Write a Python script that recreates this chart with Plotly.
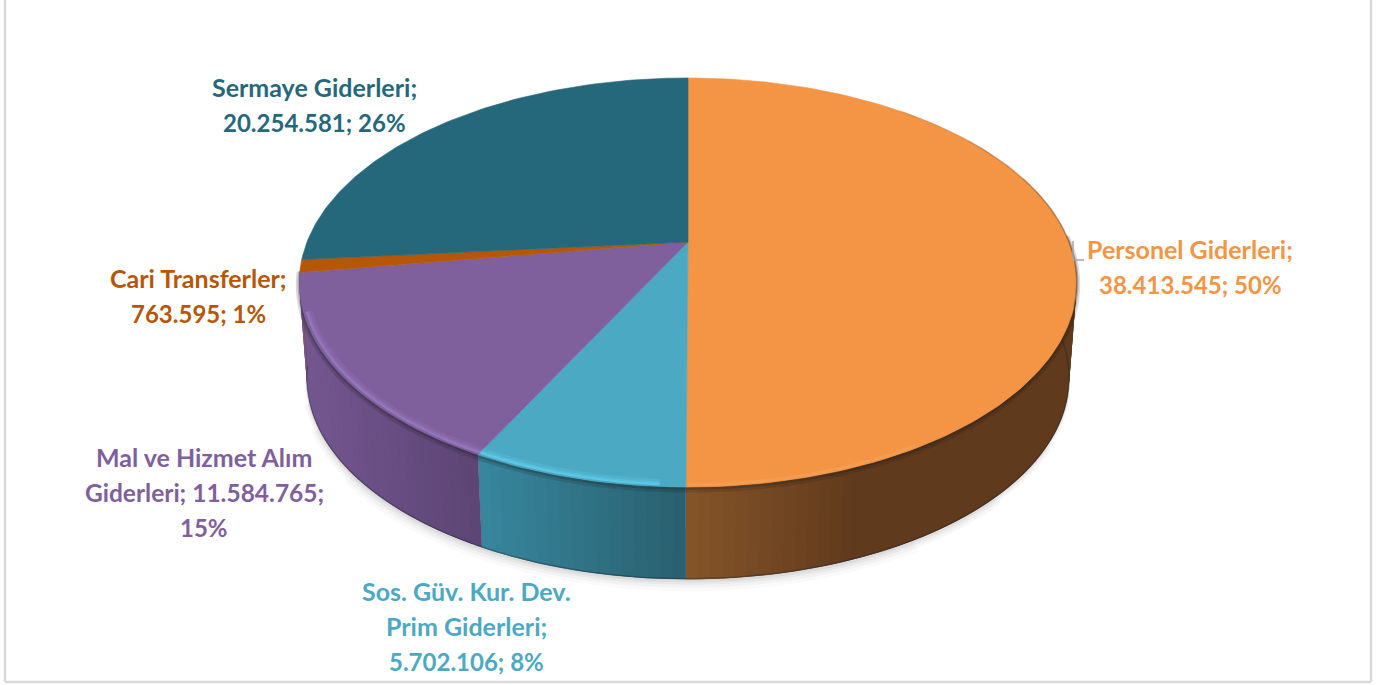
import math
import plotly.graph_objects as go

# ---- data ----
names = ["Personel Giderleri;", "Sos. Güv. Kur. Dev.<br>Prim Giderleri;", "Mal ve Hizmet Alım<br>Giderleri;", "Cari Transferler;", "Sermaye Giderleri;"]
values = [38413545, 5702106, 11584765, 763595, 20254581]
percents = [50, 8, 15, 1, 26]
value_breaks = ["<br>", "<br>", " ", "<br>", "<br>"]
pct_breaks = [" ", " ", "<br>", " ", " "]

top_colors = ["#F39545", "#4BA9C4", "#7F609D", "#B65708", "#25687B"]
rim_rgb = ["246,161,90", "98,210,240", "156,125,198", "201,106,26", "47,122,143"]
wall_left = ["#85552A", "#37879E", "#745790", "#8A4A10", "#1F5566"]
wall_right = ["#603A1C", "#2A5F6E", "#5C4474", "#8A4A10", "#1F5566"]
label_x = [1190, 466, 204, 198, 314]
label_y = [267, 626, 492, 296, 105]

# ---- drawing geometry ----
APEX = (688.0, 242.0)
S, A, C = 381.0, 193.5, 0.198
VANISH_Y, K = 5240.0, 0.9806
FONT = "Lato"
LINE = 35.5


def top_pt(theta, r=1.0):
    u, v = r * math.sin(theta), r * math.cos(theta)
    d = 1 + C * v
    y = A * v / d
    # the far half is a little flatter than the near half
    return APEX[0] + S * u / d, APEX[1] - y * (1.0 if v > 0 else 1.0) * (1.0157 if v < 0 else 1.0157)


def bot_pt(theta):
    x, y = top_pt(theta)
    return APEX[0] + K * (x - APEX[0]), VANISH_Y - K * (VANISH_Y - y)


def hex_mix(a, b, t):
    ca = [int(a[i:i + 2], 16) for i in (1, 3, 5)]
    cb = [int(b[i:i + 2], 16) for i in (1, 3, 5)]
    return "#%02x%02x%02x" % tuple(round(p + (q - p) * t) for p, q in zip(ca, cb))


total = sum(values)
edges = [0.0]
for val in values:
    edges.append(edges[-1] + val / total * 2 * math.pi)

fig = go.Figure()


def add_poly(xs, ys, color, width=0.0):
    fig.add_trace(go.Scatter(x=xs, y=ys, mode="lines", fill="toself", fillcolor=color,
                             line=dict(color=color, width=width), hoverinfo="skip", showlegend=False))


def add_line(xs, ys, color, width):
    fig.add_trace(go.Scatter(x=xs, y=ys, mode="lines", line=dict(color=color, width=width, shape="spline"),
                             hoverinfo="skip", showlegend=False))


def arc_deg(a0, a1, step=2):
    n = max(2, int(abs(a1 - a0) / step))
    return [math.radians(a0 + (a1 - a0) * j / n) for j in range(n + 1)]


# soft shadow under the wall, narrowing towards its ends
for w, op, a0, a1 in ((22, 0.02, 150, 232), (15, 0.03, 135, 245), (9, 0.04, 120, 252), (4, 0.05, 105, 258)):
    sh = arc_deg(a0, a1, 3)
    add_line([bot_pt(t)[0] for t in sh], [bot_pt(t)[1] + 1 for t in sh], "rgba(0,0,0,%g)" % op, w)

# side wall: thin overlapping strips shaded across each wedge
STEP = math.radians(1.5)
wall_start, wall_end = math.radians(88), math.radians(262)
for i in range(len(values)):
    lo, hi = max(edges[i], wall_start), min(edges[i + 1], wall_end)
    if hi <= lo:
        continue
    x_lo, x_hi = top_pt(lo)[0], top_pt(hi)[0]
    n = max(1, int((hi - lo) / STEP))
    for j in range(n):
        a = lo + (hi - lo) * j / n
        b = min(hi, a + 2 * (hi - lo) / n)
        p, q, r, s = top_pt(a), top_pt(b), bot_pt(b), bot_pt(a)
        xm = top_pt(a + (hi - lo) / (2 * n))[0]
        t = (xm - min(x_lo, x_hi)) / max(1.0, abs(x_hi - x_lo))
        if i == 0:
            t = min(1.0, (xm - 686) / 170)
        add_poly([p[0], q[0], r[0], s[0], p[0]], [p[1], q[1], r[1], s[1], p[1]], hex_mix(wall_left[i], wall_right[i], t))

# dark shade along the bottom rim and just below the top rim
arc = arc_deg(88, 262)
add_line([bot_pt(t)[0] for t in arc], [bot_pt(t)[1] - 0.5 for t in arc], "rgba(25,35,45,0.35)", 1.5)
add_line([top_pt(t)[0] for t in arc], [top_pt(t)[1] + 2 for t in arc], "rgba(25,25,25,0.16)", 7)
add_line([top_pt(t)[0] for t in arc], [top_pt(t)[1] + 1 for t in arc], "rgba(25,25,25,0.22)", 3.5)

# top faces
for i in range(len(values)):
    n = max(2, int((edges[i + 1] - edges[i]) / math.radians(1)))
    pts = [top_pt(edges[i] + (edges[i + 1] - edges[i]) * j / n) for j in range(n + 1)]
    xs = [APEX[0]] + [p[0] for p in pts] + [APEX[0]]
    ys = [APEX[1]] + [p[1] for p in pts] + [APEX[1]]
    add_poly(xs, ys, top_colors[i], 0.6)

# thin dark edge on the far right of the orange face, fading out towards the back
for a0, op in ((40, 0.12), (55, 0.16), (70, 0.2)):
    arc = arc_deg(a0, 108)
    add_line([top_pt(t)[0] for t in arc], [top_pt(t)[1] for t in arc], "rgba(90,60,35,%g)" % op, 1.5)

# soft bevel highlight round the front of the top rim, built from layered translucent bands
rim_bands = [(0.985, 6, 0.22), (0.99, 4, 0.35), (0.992, 2, 0.55)]
for i, m0, m1 in ((1, 0.12, 1.0), (2, 0.0, 0.8)):
    lo, hi = edges[i] + (edges[i + 1] - edges[i]) * m0, edges[i] + (edges[i + 1] - edges[i]) * m1
    for r, w, op in rim_bands:
        n = max(2, int((hi - lo) / math.radians(1)))
        pts = [top_pt(lo + (hi - lo) * j / n, r) for j in range(n + 1)]
        add_line([p[0] for p in pts], [p[1] for p in pts], "rgba(%s,%g)" % (rim_rgb[i], op), w)
arc = arc_deg(150, 180, 1)
pts = [top_pt(t, 0.992) for t in arc]
add_line([p[0] for p in pts], [p[1] for p in pts], "rgba(%s,0.6)" % rim_rgb[0], 3)

# labels, one annotation per text line
annotations = []
for i in range(len(values)):
    val_txt = f"{values[i]:,}".replace(",", ".")
    text = names[i] + value_breaks[i] + val_txt + ";" + pct_breaks[i] + f"{percents[i]}%"
    rows = text.split("<br>")
    for k, row in enumerate(rows):
        has_digit = any(ch.isdigit() for ch in row)
        size = 24 if row[0].isdigit() else (24.5 if has_digit else 25)
        annotations.append(dict(x=label_x[i], y=label_y[i] + (k - (len(rows) - 1) / 2) * LINE, text=row,
                                showarrow=False, xanchor="center", yanchor="middle", xref="x", yref="y",
                                font=dict(family=FONT, size=size, color=top_colors[i], weight="bold")))

shapes = [
    dict(type="line", xref="paper", yref="paper", x0=x0 / 1393, x1=x1 / 1393, y0=1 - y0 / 685, y1=1 - y1 / 685,
         line=dict(color="#D9D9D9", width=2.5))
    for x0, y0, x1, y1 in [(5, 0, 5, 682), (5, 682, 1371, 682), (1371, 0, 1371, 682)]
]
shapes += [
    dict(type="line", xref="x", yref="y", x0=1073, y0=241, x1=1073, y1=260, line=dict(color="#A6A6A6", width=1.5)),
    dict(type="line", xref="x", yref="y", x0=1073, y0=260, x1=1084, y1=260, line=dict(color="#A6A6A6", width=1.5)),
]

fig.update_layout(
    width=1393, height=685, margin=dict(l=0, r=0, t=0, b=0),
    paper_bgcolor="white", plot_bgcolor="white", showlegend=False,
    xaxis=dict(range=[0, 1393], visible=False, fixedrange=True),
    yaxis=dict(range=[685, 0], visible=False, fixedrange=True),
    annotations=annotations, shapes=shapes,
)
fig.write_html("out.html", config={"displayModeBar": False},
               post_script="document.body.style.margin='0';document.documentElement.style.overflow='hidden';")
